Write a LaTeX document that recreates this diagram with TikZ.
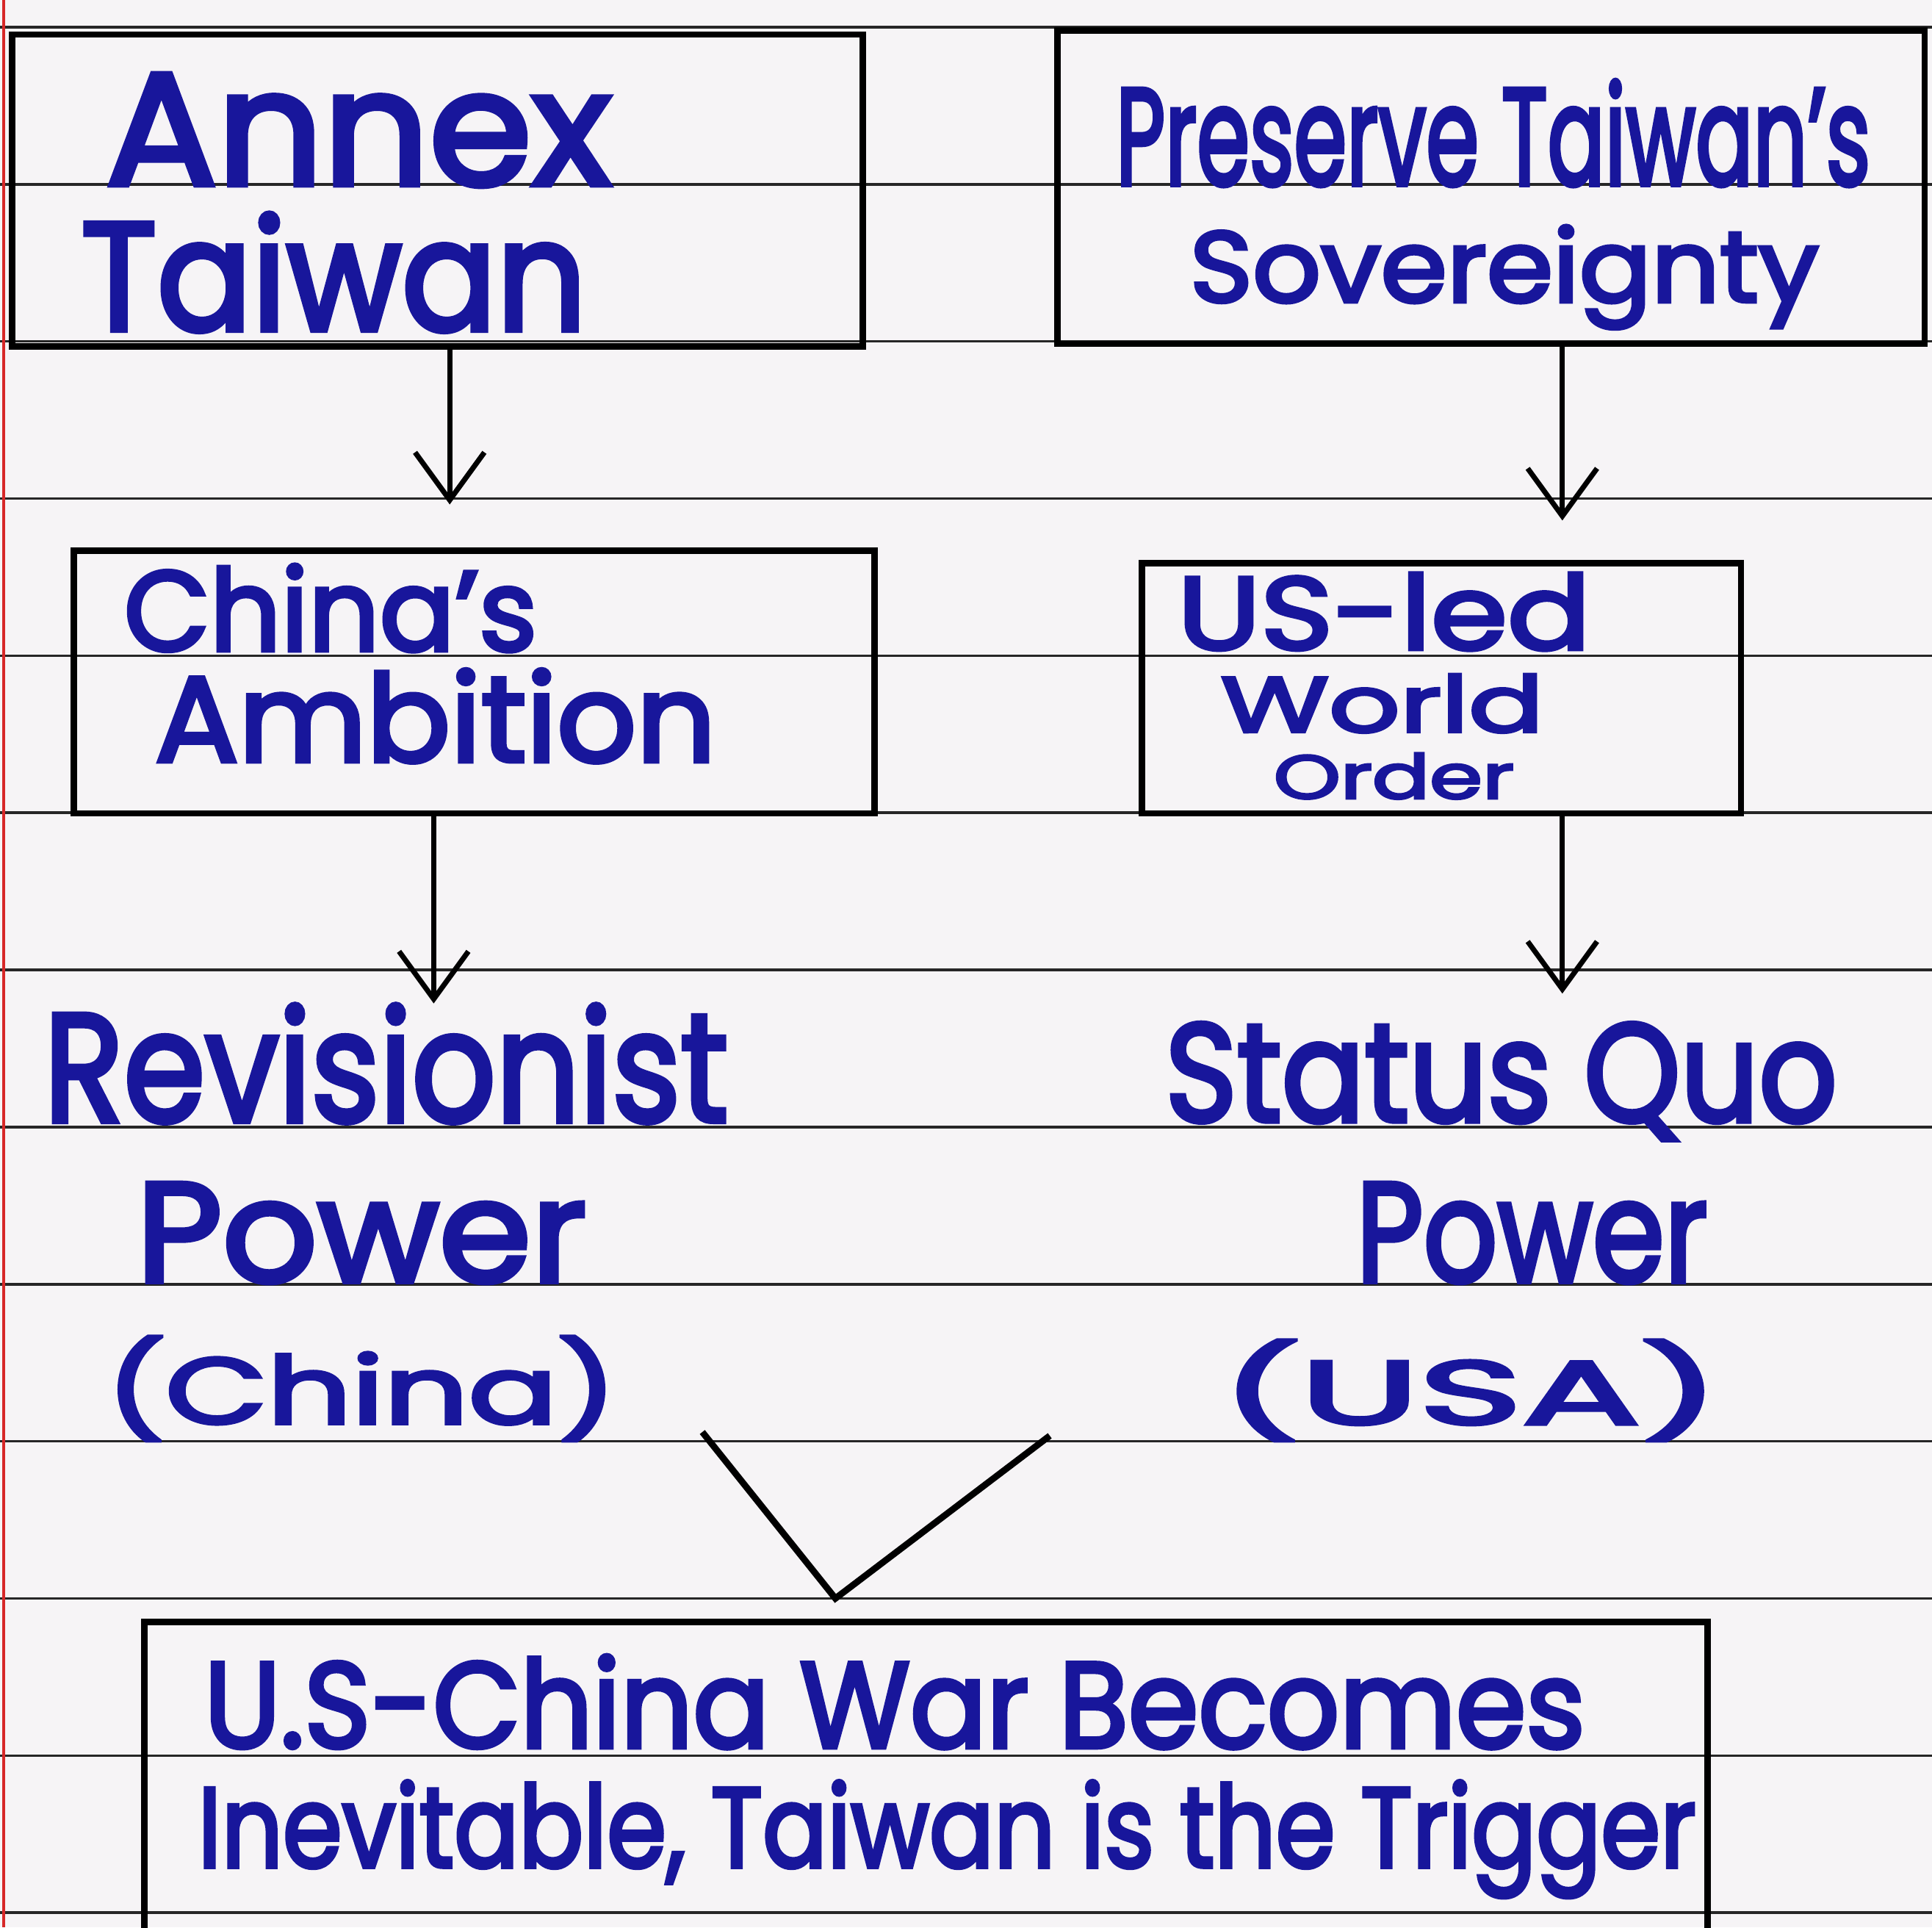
\documentclass[tikz,border=0pt]{standalone}
\usepackage{fontspec}
\setmainfont{Poppins}
\newfontfamily\hwfont{Poppins}[FakeBold=3.5,Ligatures=TeX]
\usetikzlibrary{arrows.meta,fit}
\definecolor{ink}{RGB}{24,22,155}
\definecolor{paper}{RGB}{246,244,246}
\definecolor{margin}{RGB}{215,40,40}
\tikzset{
  boxline/.style={draw=black, line width=1.5pt, inner sep=0pt},
  rule/.style={draw=black!85, line width=0.6pt},
  conn/.style={draw=black, line width=1.2pt, -{Straight Barb[length=11pt,width=16pt]}},
  vline/.style={draw=black, line width=1.5pt, line join=miter},
  hw/.style={text=ink, inner sep=0pt, anchor=base west, font=\hwfont},
  hwb/.style={text=ink, inner sep=0pt, anchor=south west, font=\hwfont},
}
\newcommand{\hwt}[3]{\resizebox{#1cm}{#2cm}{#3}}
\newcommand{\hwtot}[3]{\resizebox*{#1cm}{#2cm}{#3}}
\begin{document}
\begin{tikzpicture}[x=0.01cm,y=-0.01cm]
\useasboundingbox (0,0) rectangle (1568,1564);
\clip (0,0) rectangle (1568,1564);
\fill[paper] (0,0) rectangle (1568,1564);
% ruled lines
\foreach \k in {0,...,12} \draw[rule] (0,{22+127.5*\k}) -- (1568,{22+127.5*\k});
\draw[margin, line width=0.8pt] (3,0) -- (3,1564);

% boxes
\node[boxline, fit={(10,28) (700,281)}] (b1) {};
\node[boxline, fit={(858,25) (1562,279)}] (b2) {};
\node[boxline, fit={(60,447) (710,660)}] (b3) {};
\node[boxline, fit={(927,457) (1413,660)}] (b4) {};
\node[boxline, fit={(117,1316) (1386,1620)}] (b5) {};

% texts
\node[hw] (t1) at (85,150) {\hwt{4.1}{0.9}{Annex}};
\node[hw] (t2) at (65,268) {\hwt{4.1}{0.95}{Taiwan}};
\node[hw] (t3) at (905,150) {\hwt{6.12}{0.85}{Preserve Taiwan's}};
\node[hw] (t4) at (965,245) {\hwt{5.1}{0.62}{Sovereignty}};
\node[hw] (t5) at (100,528) {\hwt{3.35}{0.70}{China's}};
\node[hw] (t6) at (125,618) {\hwt{4.55}{0.75}{Ambition}};
\node[hw] (t7) at (955,527) {\hwt{3.35}{0.62}{US-led}};
\node[hw] (t8) at (990,594) {\hwt{2.62}{0.47}{World}};
\node[hw] (t9) at (1033,648) {\hwt{1.95}{0.37}{Order}};
\node[hw] (t10) at (35,910) {\hwt{5.55}{0.95}{Revisionist}};
\node[hw] (t11) at (110,1040) {\hwt{3.65}{0.80}{Power}};
\node[hwb] (t12) at (85,1170) {\hwtot{4.15}{0.85}{(China)}};
\node[hw] (t13) at (945,910) {\hwt{5.45}{0.80}{Status Quo}};
\node[hw] (t14) at (1100,1040) {\hwt{2.85}{0.80}{Power}};
\node[hwb] (t15) at (990,1170) {\hwtot{4.05}{0.82}{(USA)}};
\node[hw] (t16) at (165,1418) {\hwt{11.2}{0.75}{U.S-China War Becomes}};
\node[hw] (t17) at (160,1515) {\hwt{12.15}{0.70}{Inevitable, Taiwan is the Trigger}};

% connectors
\coordinate (x1) at (365,0);
\coordinate (x2) at (1268,0);
\coordinate (x3) at (352,0);
\coordinate (x4) at (1268,0);
\draw[conn, shorten >=0.35cm] (b1.south -| x1) -- (b3.north -| x1);
\draw[conn, shorten >=0.32cm] (b2.south -| x2) -- (b4.north -| x2);
\draw[conn] (b3.south -| x3) -- (t10.north -| x3);
\draw[conn, shorten >=0.23cm] (b4.south -| x4) -- (t13.north -| x4);

\coordinate (vL) at (570,1162);
\coordinate (vB) at (678,1297);
\coordinate (vR) at (852,1165);
\draw[vline] (vL) -- (vB) -- (vR);
\end{tikzpicture}
\end{document}
